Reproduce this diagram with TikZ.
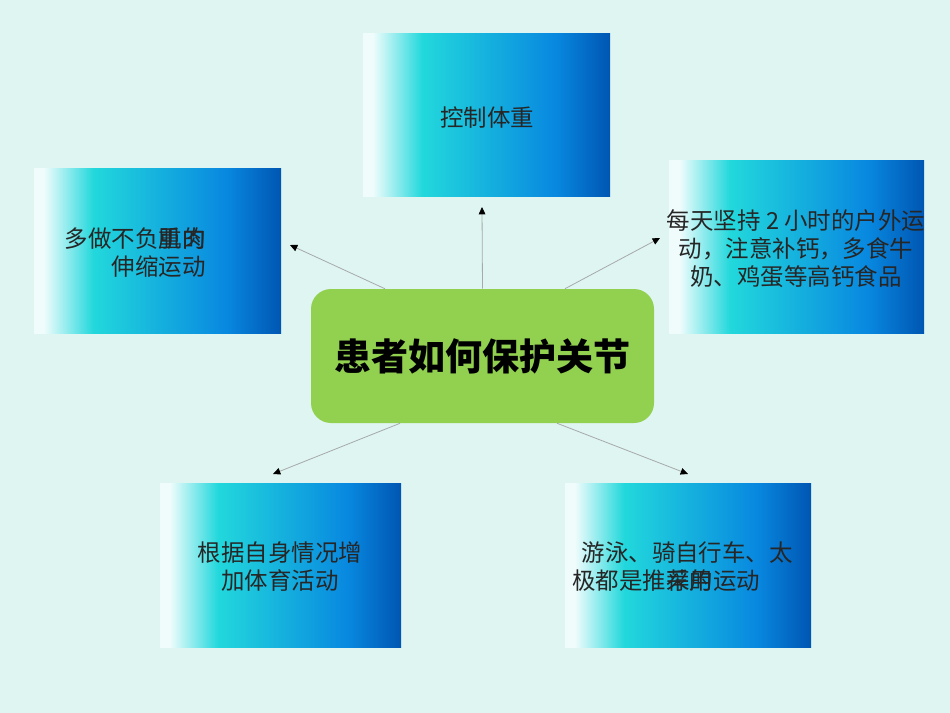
\documentclass[tikz,border=0pt]{standalone}
\usepackage{fontspec}
\newfontfamily\cjk{Noto Sans CJK SC}
\usepackage{tikz}
\usetikzlibrary{arrows,arrows.meta,shapes,calc,positioning}
\definecolor{fondo}{RGB}{223,245,241}
\definecolor{verde}{RGB}{146,208,80}
\definecolor{blanco}{RGB}{240,252,252}
\definecolor{cian}{RGB}{34,216,220}
\definecolor{azulMedio}{RGB}{8,136,224}
\definecolor{azulOscuro}{RGB}{0,86,178}
\definecolor{grisLinea}{RGB}{165,170,170}
\pgfdeclarehorizontalshading{degradado}{100bp}{color(0bp)=(blanco); color(25bp)=(blanco); color(27bp)=(blanco); color(37bp)=(cian); color(64bp)=(azulMedio); color(75bp)=(azulOscuro); color(100bp)=(azulOscuro)}
\tikzstyle{caja}  =[rectangle, shading=degradado, inner sep=0pt]
\tikzstyle{texto} =[font=\cjk\fontsize{17.6}{21}\selectfont, text=black!85, inner sep=0pt]
\tikzstyle{flecha}=[draw=grisLinea, line width=0.6pt,
                    -{Triangle[black,length=5.5pt,width=5pt]}]

\begin{document}
\begin{tikzpicture}[x=0.75pt,y=-0.75pt]
    \useasboundingbox (0,0) rectangle (950,713);
    \fill[fondo] (0,0) rectangle (950,713);

    % cajas
    \node (arriba) [caja, minimum width=185.25pt, minimum height=122.25pt] at (486.5,115.5) {};
    \node (izq)    [caja, minimum width=185.25pt, minimum height=123pt] at (157.5,251) {};
    \node (der)    [caja, minimum width=191.25pt, minimum height=129pt] at (796.5,247) {};
    \node (abIzq)  [caja, minimum width=180.75pt, minimum height=123pt] at (280.5,565) {};
    \node (abDer)  [caja, minimum width=184.5pt, minimum height=123pt] at (688,565) {};

    \node (centro) [rectangle, rounded corners=15pt, fill=verde,
                    minimum width=257.25pt, minimum height=100.5pt,
                    font=\cjk\fontsize{27.8}{32}\selectfont\bfseries] at (482.5,356) {患者如何保护关节};

    % textos
    \node (tArriba) [texto] at (487,118) {控制体重};
    \node (tIzq)    [texto, anchor=east, align=right] at (206,253) {多做不负\rlap{重的}肌肉\\伸缩运动};
    \node (tDer)    [texto, align=center] at (796,249) {每天坚持 2 小时的户外运\\动，注意补钙，多食牛\\奶、鸡蛋等高钙食品};
    \node (tAbIzq)  [texto, align=center] at (280,567) {根据自身情况增\\加体育活动};
    \node (tAbDer)  [texto, anchor=west, align=left] at (572,567) {\hspace{7pt}游泳、骑自行车、太\\极都是推\rlap{荐的}采用运动};

    % puntas
    \coordinate (fArriba) at (482,207);
    \coordinate (fIzq)    at (290,245);
    \coordinate (fDer)    at (660,238);
    \coordinate (fAbIzq)  at (273,474);
    \coordinate (fAbDer)  at (688,474);

    \draw[flecha] ($(centro.north west)!0.5!(centro.north east)$) -- (fArriba);
    \draw[flecha] ($(centro.north west)!0.216!(centro.north east)$) -- (fIzq);
    \draw[flecha] ($(centro.north west)!0.74!(centro.north east)$) -- (fDer);
    \draw[flecha] ($(centro.south west)!0.26!(centro.south east)$) -- (fAbIzq);
    \draw[flecha] ($(centro.south west)!0.717!(centro.south east)$) -- (fAbDer);
\end{tikzpicture}
\end{document}
